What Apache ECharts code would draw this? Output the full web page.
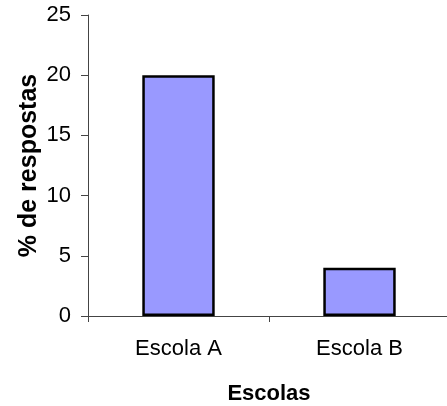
<!DOCTYPE html>
<html>
<head>
<meta charset="utf-8">
<script src="https://cdn.jsdelivr.net/npm/echarts@6/dist/echarts.min.js"></script>
<style>
  html, body { margin: 0; padding: 0; background: #fff; }
  #chart { width: 447px; height: 406px; }
</style>
</head>
<body>
<div id="chart"></div>
<script>
// Share of answers per school
const categories = ['Escola A', 'Escola B'];
const values = [20, 4];
const yTicks = { min: 0, max: 25, interval: 5 };
const xTitle = 'Escolas';
const yTitle = '% de respostas';

const font = 'Liberation Sans, Arial, sans-serif';
const axisColor = '#444';

const chart = echarts.init(document.getElementById('chart'), null, { renderer: 'canvas' });
chart.setOption({
  animation: false,
  backgroundColor: '#fff',
  grid: { left: 88, top: 15, bottom: 90, width: 362, containLabel: false, outerBoundsMode: 'none' },
  xAxis: {
    type: 'category',
    data: categories,
    boundaryGap: true,
    name: xTitle,
    nameLocation: 'middle',
    nameGap: 67,
    nameMoveOverlap: false,
    nameTextStyle: { fontFamily: font, fontSize: 22, fontWeight: 'bold', color: '#000' },
    axisLine: { lineStyle: { color: axisColor, width: 1 } },
    axisTick: { show: true, length: 6, inside: false, alignWithLabel: false, lineStyle: { color: axisColor } },
    axisLabel: { fontFamily: font, fontSize: 22, color: '#000', margin: 22 },
    splitLine: { show: false }
  },
  yAxis: {
    type: 'value',
    min: yTicks.min,
    max: yTicks.max,
    interval: yTicks.interval,
    name: yTitle,
    nameLocation: 'middle',
    nameGap: 46,
    nameMoveOverlap: false,
    nameRotate: 90,
    nameTextStyle: { fontFamily: font, fontSize: 25, fontWeight: 'bold', color: '#000' },
    axisLine: { show: true, lineStyle: { color: axisColor, width: 1 } },
    axisTick: { show: true, length: 7, inside: false, lineStyle: { color: axisColor } },
    axisLabel: { fontFamily: font, fontSize: 22, color: '#000', margin: 17 },
    splitLine: { show: false }
  },
  series: [{
    type: 'bar',
    data: values,
    barWidth: '40%',
    itemStyle: { color: '#9999FF', borderColor: '#000', borderWidth: 2.5 }
  }]
});
</script>
</body>
</html>
